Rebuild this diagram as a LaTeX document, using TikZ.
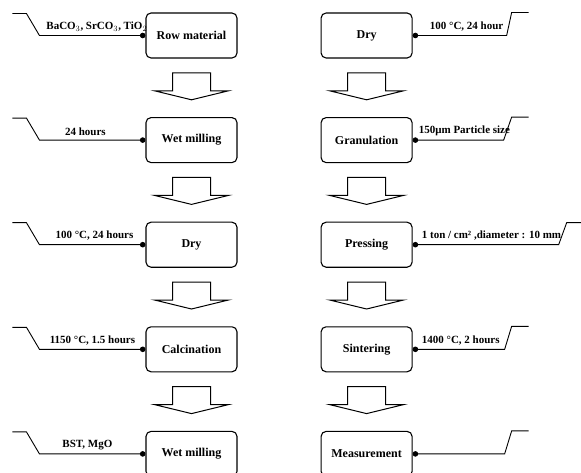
\documentclass[tikz,border=0pt]{standalone}
\usepackage{fontspec}
\setmainfont{Liberation Serif}
\usetikzlibrary{arrows.meta,positioning,calc}

\begin{document}
\begin{tikzpicture}[x=1pt,y=-1pt,
          stage/.style={draw,line width=1.1pt,rounded corners=5pt,fill=white,
                        minimum width=91pt,minimum height=45pt,inner sep=0pt,
                        font=\fontsize{12}{14}\selectfont\bfseries},
          feed/.style={{Circle[length=5.5pt]}-,line width=0.9pt},
          cond/.style={font=\fontsize{11}{13}\selectfont\bfseries,inner sep=1pt},
          flow/.style={draw,fill=white,line width=1pt,line join=miter},
          node distance=58.5pt and 83pt
        ]
        \useasboundingbox (0,0) rectangle (581,473);
        % left column
        \node[stage] (raw) at (191.5,35.5) {Row material};
        \node[stage,below=of raw] (wm1) {Wet milling};
        \node[stage,below=of wm1] (dry1) {Dry};
        \node[stage,below=of dry1] (calcin) {Calcination};
        \node[stage,below=of calcin] (wm2) {Wet milling};
        % right column
        \node[stage,right=of raw] (dry2) {Dry};
        \node[stage,below=of dry2] (gran) {Granulation};
        \node[stage,below=of gran] (press) {Pressing};
        \node[stage,below=of press] (sint) {Sintering};
        \node[stage,below=of sint] (meas) {Measurement};
        \foreach \a/\b in {raw/wm1,wm1/dry1,dry1/calcin,calcin/wm2,dry2/gran,gran/press,press/sint,sint/meas}
          \draw[flow] ($(\a.south)!0.5!(\b.north)$) +(-19,-15) -- +(19,-15) -- +(19,3) -- +(37,3)
            -- +(0,12) -- +(-37,3) -- +(-19,3) -- cycle;
        % process conditions
        \foreach \n in {raw,wm1,dry1,calcin,wm2}
          \draw[feed] (\n.west) -- ++(-106,0) -- ++(-13,-22) -- ++(-14,0);
        \foreach \n/\l/\s in {dry2/94/5,gran/91/8,sint/92/7,meas/92/7}
          \draw[feed] (\n.east) -- ++(\l,0) -- ++(\s,-23) -- ++(17,0);
        \draw[feed] (press.east) -- ++(146,0) -- ++(8,-22) -- ++(16,0);
        \node[cond,anchor=south east] (craw) at ($(raw.west)+(3,-3)$) {BaCO$_3$, SrCO$_3$, TiO$_2$};
        \node[cond,anchor=south] (cwm1) at ($(wm1.west)+(-60,-3)$) {24 hours};
        \node[cond,anchor=south] (cdry1) at ($(dry1.west)+(-51,-3)$) {100 °C, 24 hours};
        \node[cond,anchor=south] (ccalc) at ($(calcin.west)+(-53,-3)$) {1150 °C, 1.5 hours};
        \node[cond,anchor=south] (cwm2) at ($(wm2.west)+(-58,-3)$) {BST, MgO};
        \node[cond,anchor=south west] (cdry2) at ($(dry2.east)+(16,-3)$) {100 °C, 24 hour};
        \node[cond,anchor=south west] (cgran) at ($(gran.east)+(5,-3)$) {150μm Particle size};
        \node[cond,anchor=south west] (cpress) at ($(press.east)+(8,-3)$) {1 ton / cm² ,diameter : 10 mm};
        \node[cond,anchor=south west] (csint) at ($(sint.east)+(8,-3)$) {1400 °C, 2 hours};
      \end{tikzpicture}
\end{document}
